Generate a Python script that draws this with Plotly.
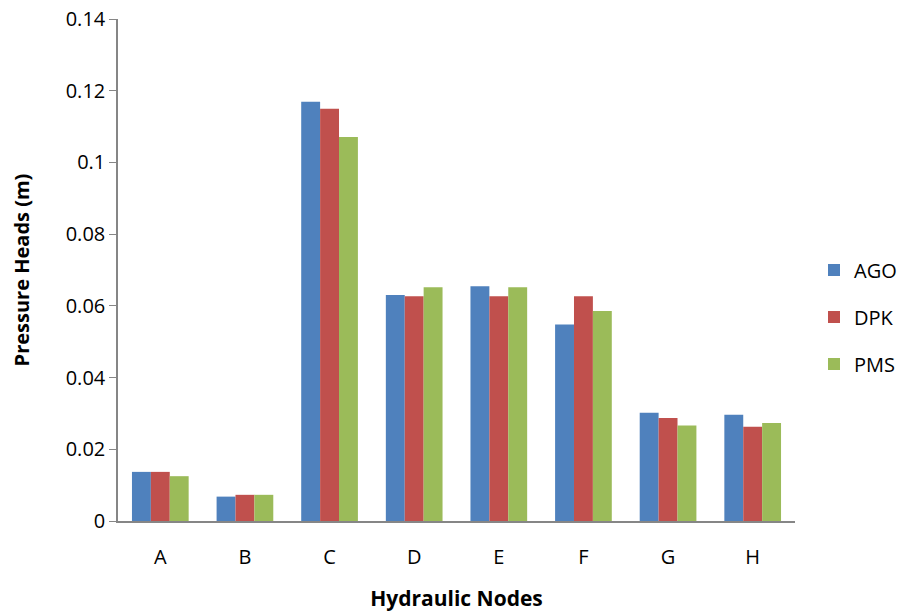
import plotly.graph_objects as go

nodes = ["A", "B", "C", "D", "E", "F", "G", "H"]
ago = [0.0137, 0.0068, 0.1169, 0.0630, 0.0655, 0.0548, 0.0302, 0.0296]
dpk = [0.0137, 0.0073, 0.1150, 0.0627, 0.0627, 0.0627, 0.0287, 0.0263]
pms = [0.0125, 0.0073, 0.1071, 0.0652, 0.0652, 0.0586, 0.0266, 0.0273]
y_ticks = [0, 0.02, 0.04, 0.06, 0.08, 0.1, 0.12, 0.14]

series = [("AGO", ago, "#4F81BD"), ("DPK", dpk, "#C0504D"), ("PMS", pms, "#9BBB59")]

fig = go.Figure()
for name, vals, col in series:
    fig.add_trace(go.Bar(x=nodes, y=vals, name=name, marker_color=col,
                         marker_line_width=0, legendgroup=name))

font_family = "'Open Sans', Lato, sans-serif"
fig.update_layout(
    width=907, height=613,
    margin=dict(l=118, r=112, t=19, b=92, autoexpand=False),
    paper_bgcolor="white", plot_bgcolor="white",
    barmode="group", bargap=0.33, bargroupgap=0,
    font=dict(family=font_family, size=20, color="black"),
    legend=dict(xref="container", yref="container", x=814 / 907, y=(613 - 317) / 613,
                xanchor="left", yanchor="middle",
                traceorder="grouped", tracegroupgap=18,
                font=dict(size=20)),
    xaxis=dict(title=dict(text="<b>Hydraulic Nodes</b>", font=dict(size=21), standoff=22),
               showline=True, linecolor="#868686", linewidth=2,
               ticks="", ticklabelstandoff=17, tickfont=dict(size=20), showgrid=False),
    yaxis=dict(title=dict(text="<b>Pressure Heads (m)</b>", font=dict(size=20), standoff=31),
               range=[0, 0.14], tickvals=y_ticks,
               ticktext=[str(v) if v != 0 else "0" for v in y_ticks],
               showline=True, linecolor="#868686", linewidth=1.5,
               ticks="outside", ticklen=7, tickcolor="#868686",
               showgrid=False, zeroline=False, tickfont=dict(size=20)),
)
fig.write_html("out.html")
